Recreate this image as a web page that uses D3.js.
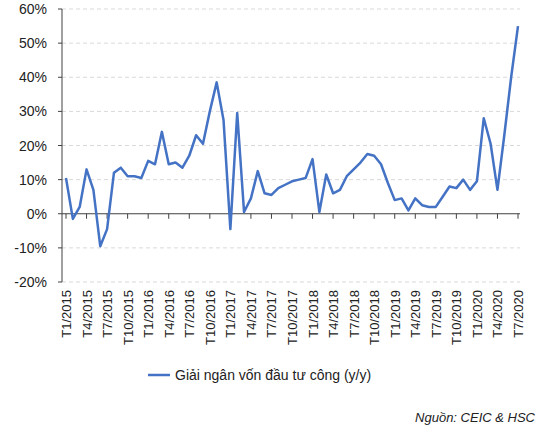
<!DOCTYPE html>
<html><head><meta charset="utf-8">
<script src="https://cdn.jsdelivr.net/npm/d3@7"></script>
<style>body{margin:0;background:#fff;font-family:Arial,"Liberation Sans",sans-serif;}</style>
</head><body>
<script>
var values = [10.5,-1.5,2,13,7,-9.5,-4.5,12,13.5,11,11,10.5,15.5,14.5,24,14.5,15,13.5,17,23,20.5,30,38.5,27.5,
  -4.5,29.5,0.5,4.5,12.5,6,5.5,7.5,8.5,9.5,10,10.5,16,0.5,11.5,6,7,11,13,15,17.5,17,14.5,9,
  4,4.5,1,4.5,2.5,2,2,5,8,7.5,10,7,9.5,28,20.5,7,23,40,55];
var months = values.map(function(d, i) { return "T" + (i % 12 + 1) + "/" + (2015 + Math.floor(i / 12)); });
var yTicks = [-20,-10,0,10,20,30,40,50,60];
var seriesName = "Giải ngân vốn đầu tư công (y/y)";

var W = 556, H = 432;
var svg = d3.select("body").append("svg").attr("width", W).attr("height", H);
var x = d3.scalePoint().domain(months).range([66, 518]);
var y = d3.scaleLinear().domain([-20, 60]).range([282, 9]);

// grid
svg.selectAll(".grid").data(yTicks.filter(function(d){return d != 0;})).enter().append("line")
  .attr("x1", 62).attr("x2", 520).attr("y1", y).attr("y2", y)
  .attr("stroke", "#d9d9d9").attr("stroke-dasharray", "4,3");

// y axis
svg.append("line").attr("x1", 62).attr("x2", 62).attr("y1", y(60)).attr("y2", y(-20)).attr("stroke", "#404040");
svg.selectAll(".yt").data(yTicks).enter().append("line")
  .attr("x1", 58).attr("x2", 62).attr("y1", y).attr("y2", y).attr("stroke", "#404040");
svg.selectAll(".yl").data(yTicks).enter().append("text")
  .attr("x", 47).attr("y", function(d){return y(d) + 5;}).attr("text-anchor", "end")
  .attr("font-size", 14).attr("fill", "#222").text(function(d){return d + "%";});

// zero axis
svg.append("line").attr("x1", 62).attr("x2", 520).attr("y1", y(0)).attr("y2", y(0)).attr("stroke", "#404040");
var lab = months.filter(function(d, i){return i % 3 == 0;});
svg.selectAll(".xt").data(lab).enter().append("line")
  .attr("x1", x).attr("x2", x).attr("y1", y(0)).attr("y2", y(0) + 5).attr("stroke", "#404040");
svg.selectAll(".xl").data(lab).enter().append("text")
  .attr("transform", function(d){return "translate(" + (x(d) + 5) + ",290) rotate(-90)";})
  .attr("text-anchor", "end").attr("font-size", 13).attr("fill", "#222").text(function(d){return d;});

// line
svg.append("path").datum(values)
  .attr("d", d3.line().x(function(d, i){return x(months[i]);}).y(function(d){return y(d);}))
  .attr("fill", "none").attr("stroke", "#4472c4").attr("stroke-width", 2.5).attr("stroke-linejoin", "round");

// legend
svg.append("line").attr("x1", 148).attr("x2", 170).attr("y1", 375).attr("y2", 375)
  .attr("stroke", "#4472c4").attr("stroke-width", 2.5);
svg.append("text").attr("x", 175).attr("y", 380).attr("font-size", 14).attr("fill", "#222").text(seriesName);

svg.append("text").attr("x", 535).attr("y", 422).attr("text-anchor", "end").attr("font-size", 13)
  .attr("font-style", "italic").attr("fill", "#222").text("Nguồn: CEIC & HSC");
</script>
</body></html>
